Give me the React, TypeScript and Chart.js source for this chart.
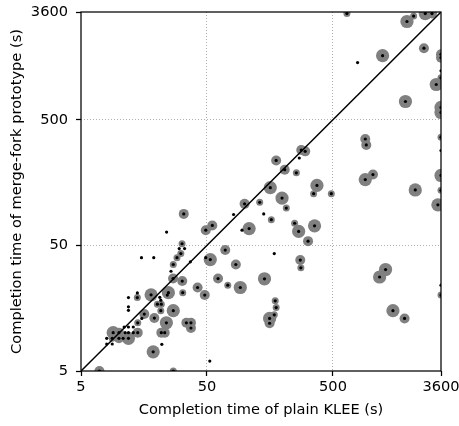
import React, { useEffect, useRef } from 'react';
import { Chart, registerables } from 'chart.js';

Chart.register(...registerables);

// Completion time of plain KLEE (s)
const plainKleeTime = [
  11.9, 14.0, 14.0, 11.9, 11.9, 18.0, 21.1, 21.5, 20.2, 21.7,
  21.5, 24.7, 24.2, 15.9, 15.2, 19.1, 23.8, 14.1, 13.0, 11.9,
  11.0, 21.7, 23.1, 9.0, 10.0, 11.2, 11.9, 13.0, 14.1, 8.0,
  8.85, 10.0, 10.8, 11.9, 8.0, 8.85, 21.9, 18.7, 7.0,
  27.0, 34.3, 37.3, 37.3, 52.6, 27.0, 32.1, 42.1, 48.0,
  32.7, 23.9, 48.9, 55.1, 31.7, 30.1, 33.2, 31.0, 28.9, 18.9,
  15.1, 27.0, 25.9, 26.9, 31.8, 36.9, 48.9, 53.1, 69.8, 61.2,
  73.1, 91.9, 143,
  280, 301, 270, 177, 207, 256, 373, 351, 485, 159,
  197, 213, 131, 99.4, 141, 81.3, 162, 248, 267, 357,
  317, 94.8, 108, 171, 84.7, 275, 278,
  174, 177, 171, 157, 157, 1307, 1172, 1496, 1850, 3600,
  3600, 2249, 3400, 3600, 902, 1038, 902, 919,
  645, 1933, 2183, 2700, 3054, 784, 1238, 2636, 3600, 3600,
  3600, 3600, 3300, 1880, 3600, 3600, 3600, 3600, 3600,
];

// Completion time of merge-fork prototype (s)
const mergeForkTime = [
  19.2, 20.9, 19.2, 16.2, 15.2, 20.2, 19.3, 18.3, 17.0, 17.0,
  15.1, 21.0, 20.1, 14.2, 13.1, 13.2, 12.1, 12.1, 11.2, 11.2,
  11.2, 10.1, 10.1, 10.1, 10.1, 10.1, 10.1, 10.1, 10.1, 9.1,
  9.1, 9.1, 9.1, 9.1, 8.2, 8.2, 8.15, 7.1, 5,
  15.1, 12.1, 12.1, 11.0, 6.0, 5, 21.0, 23.1, 20.1,
  89, 63.8, 66, 72, 51.5, 47.1, 47.1, 43.0, 39.9, 39.9,
  39.9, 35.2, 31.1, 27.2, 26.0, 37.0, 39.9, 38.5, 45.9, 27.2,
  24.1, 23.1, 27.1,
  287, 280, 248, 237, 200, 189, 150, 129, 129, 144,
  119, 99, 110, 107, 89, 88, 80, 75, 64.6, 71.5,
  54, 66, 68, 43.0, 35.2, 38.2, 33.1,
  18.1, 16.0, 14.0, 13.1, 12.0, 32.1, 28.0, 15.1, 13.1, 24.1,
  20.1, 138, 105, 137, 167, 183, 351, 315,
  3500, 3025, 3342, 3500, 3500, 1425, 1618, 1854, 1660, 1560,
  1224, 1077, 953, 698, 626, 571, 363, 284, 180,
];

// Halo class of each point (0 = none, 1 = small, 2 = medium, 3 = large)
const haloLevel = [
  0, 0, 1, 0, 0, 3, 0, 0, 1, 1,
  1, 3, 0, 2, 0, 2, 3, 1, 0, 0,
  0, 2, 2, 3, 2, 0, 0, 0, 2, 0,
  1, 2, 0, 3, 0, 0, 0, 3, 2,
  3, 2, 2, 2, 0, 1, 1, 2, 2,
  2, 0, 2, 2, 1, 0, 0, 1, 1, 0,
  0, 1, 0, 2, 2, 0, 0, 3, 2, 2,
  1, 3, 3,
  2, 2, 0, 2, 2, 1, 3, 1, 1, 3,
  3, 1, 1, 2, 0, 0, 1, 1, 3, 3,
  2, 0, 3, 0, 2, 2, 1,
  1, 1, 1, 3, 2, 3, 3, 3, 2, 0,
  1, 3, 3, 1, 3, 2, 2, 2,
  1, 3, 1, 3, 2, 0, 3, 2, 2, 2,
  0, 1, 3, 3, 3, 3, 1, 0, 3,
];

const tickValues = [5, 50, 500, 3600];
const gridValues = [50, 500];
const diagonalValues = [5, 3600];

const HALO_RADIUS = [0, 3.5, 5, 6.6];
const FONT = 'DejaVu Sans';
const FONT_SIZE = 14.6;

export default function App() {
  const ref = useRef<HTMLCanvasElement>(null);

  useEffect(() => {
    const canvas = ref.current;
    if (!canvas) return;
    const points = plainKleeTime.map((x, i) => ({ x, y: mergeForkTime[i] }));

    const frame = {
      id: 'frame',
      afterDatasetsDraw(chart: any) {
        const { ctx, chartArea: a } = chart;
        ctx.save();
        ctx.strokeStyle = '#000';
        ctx.lineWidth = 1.25;
        ctx.strokeRect(a.left, a.top, a.right - a.left, a.bottom - a.top);
        ctx.restore();
      },
    };

    const gridColor = (c: any) =>
      c.tick && gridValues.includes(c.tick.value) ? '#b0b0b0' : 'rgba(0,0,0,0)';
    const setTicks = (s: any) => {
      s.ticks = tickValues.map((v) => ({ value: v }));
    };
    const tickFont = { family: FONT, size: FONT_SIZE };

    const chart = new Chart(canvas, {
      type: 'scatter',
      data: {
        datasets: [
          {
            data: points,
            pointRadius: 1.6,
            pointBackgroundColor: '#000',
            pointBorderWidth: 0,
            order: 1,
            clip: 0,
          },
          {
            data: diagonalValues.map((v) => ({ x: v, y: v })),
            showLine: true,
            borderColor: '#000',
            borderWidth: 1.5,
            pointRadius: 0,
            order: 2,
          },
          {
            data: points,
            pointRadius: haloLevel.map((l) => HALO_RADIUS[l]),
            pointBackgroundColor: '#808080',
            pointBorderWidth: 0,
            order: 3,
            clip: 0,
          },
        ],
      },
      options: {
        animation: false,
        responsive: false,
        events: [],
        layout: { padding: { left: 0, right: 18, top: 12, bottom: 0 } },
        plugins: { legend: { display: false }, tooltip: { enabled: false } },
        scales: {
          x: {
            type: 'logarithmic',
            min: 5,
            max: 3600,
            afterBuildTicks: setTicks,
            afterFit: (s: any) => {
              s.height = 55;
              s.paddingLeft = 0;
              s.paddingRight = 0;
            },
            ticks: {
              callback: (v: any) => String(v),
              color: '#000',
              font: tickFont,
              padding: 2,
              maxRotation: 0,
              autoSkip: false,
            },
            grid: { color: gridColor, lineWidth: 1, tickColor: '#000', tickLength: 5, tickWidth: 1.25 },
            border: { display: false, dash: [1, 2] },
            title: {
              display: true,
              text: 'Completion time of plain KLEE (s)',
              color: '#000',
              font: { family: FONT, size: FONT_SIZE, lineHeight: 1 },
              padding: { top: 0, bottom: 8 },
            },
          },
          y: {
            type: 'logarithmic',
            min: 5,
            max: 3600,
            afterBuildTicks: setTicks,
            afterFit: (s: any) => {
              s.width = 81;
              s.paddingTop = 0;
              s.paddingBottom = 0;
            },
            ticks: {
              callback: (v: any) => String(v),
              color: '#000',
              font: tickFont,
              padding: 8,
              autoSkip: false,
            },
            grid: { color: gridColor, lineWidth: 1, tickColor: '#000', tickLength: 5, tickWidth: 1.25 },
            border: { display: false, dash: [1, 2] },
            title: {
              display: true,
              text: 'Completion time of merge-fork prototype (s)',
              color: '#000',
              font: { family: FONT, size: FONT_SIZE, lineHeight: 1 },
              padding: { top: 10, bottom: 0 },
            },
          },
        },
      },
      plugins: [frame],
    } as any);

    return () => chart.destroy();
  }, []);

  return (
    <div style={{ position: 'fixed', left: 0, top: 0, width: 459, height: 426 }}>
      <canvas ref={ref} width={459} height={426} style={{ display: 'block' }} />
    </div>
  );
}
